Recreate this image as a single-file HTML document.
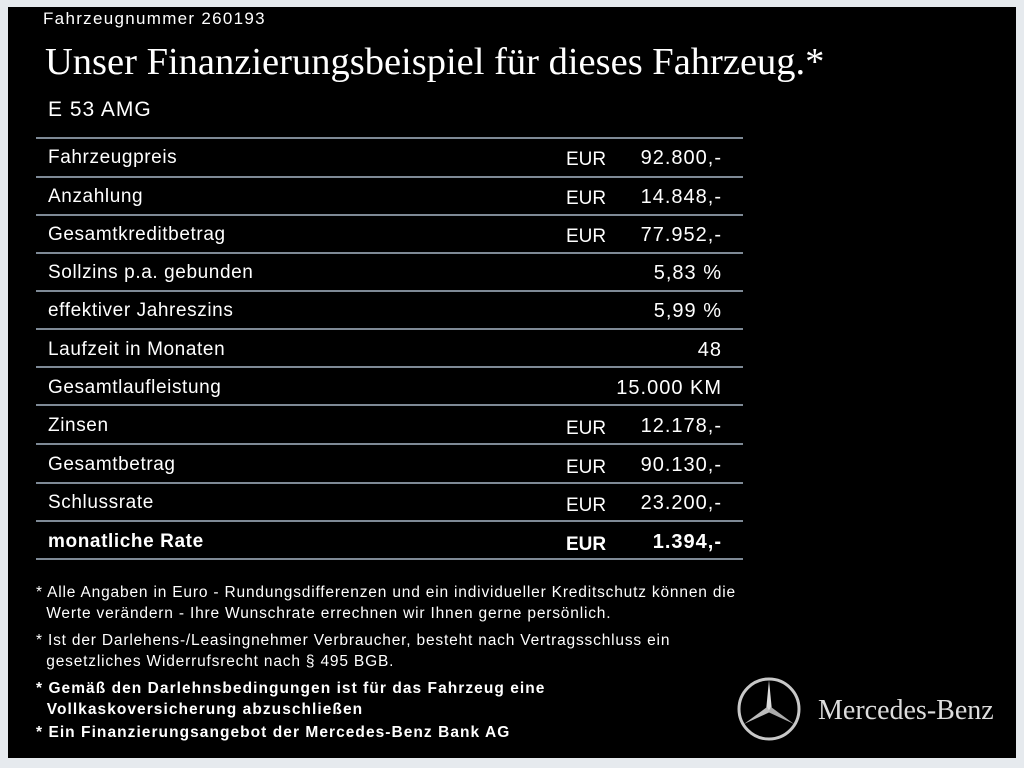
<!DOCTYPE html>
<html><head><meta charset="utf-8"><style>
body{margin:0;width:1024px;height:768px;background:#e6eaee;position:relative;overflow:hidden;font-family:"Liberation Sans",sans-serif;color:#fff}
#b{position:absolute;left:8px;top:7px;width:1008px;height:751px;background:#000}
.a{position:absolute;white-space:nowrap}
.l{position:absolute;left:36px;width:707px;height:2px;background:#7e8a96}
.r{position:absolute;left:48px;font-size:19px;letter-spacing:0.6px}
.e{position:absolute;left:566px;font-size:19px}
.v{position:absolute;right:302px;font-size:20px;text-align:right;letter-spacing:1px}
.f{position:absolute;left:36px;font-size:15.5px;line-height:21px;letter-spacing:0.82px;white-space:nowrap}
.fb{font-weight:bold;letter-spacing:1.05px}
</style></head><body><div id="b"></div>
<div class="a" style="left:43px;top:9px;font-size:17px;letter-spacing:1.3px">Fahrzeugnummer 260193</div>
<div class="a" style="left:45px;top:40px;font-size:38.5px;font-family:'Liberation Serif',serif">Unser Finanzierungsbeispiel für dieses Fahrzeug.*</div>
<div class="a" style="left:48px;top:98px;font-size:21px;letter-spacing:1px">E 53 AMG</div>
<div class="l" style="top:137px"></div><div class="l" style="top:176px"></div><div class="l" style="top:214px"></div><div class="l" style="top:252px"></div><div class="l" style="top:290px"></div><div class="l" style="top:328px"></div><div class="l" style="top:366px"></div><div class="l" style="top:404px"></div><div class="l" style="top:443px"></div><div class="l" style="top:482px"></div><div class="l" style="top:520px"></div><div class="l" style="top:558px"></div>
<div class="r" style="top:147px">Fahrzeugpreis</div><div class="e" style="top:149px">EUR</div><div class="v" style="top:147px">92.800,-</div>
<div class="r" style="top:186px">Anzahlung</div><div class="e" style="top:188px">EUR</div><div class="v" style="top:186px">14.848,-</div>
<div class="r" style="top:224px">Gesamtkreditbetrag</div><div class="e" style="top:226px">EUR</div><div class="v" style="top:224px">77.952,-</div>
<div class="r" style="top:262px">Sollzins p.a. gebunden</div><div class="v" style="top:262px">5,83 %</div>
<div class="r" style="top:300px">effektiver Jahreszins</div><div class="v" style="top:300px">5,99 %</div>
<div class="r" style="top:339px">Laufzeit in Monaten</div><div class="v" style="top:339px">48</div>
<div class="r" style="top:377px">Gesamtlaufleistung</div><div class="v" style="top:377px">15.000 KM</div>
<div class="r" style="top:415px">Zinsen</div><div class="e" style="top:418px">EUR</div><div class="v" style="top:415px">12.178,-</div>
<div class="r" style="top:454px">Gesamtbetrag</div><div class="e" style="top:457px">EUR</div><div class="v" style="top:454px">90.130,-</div>
<div class="r" style="top:492px">Schlussrate</div><div class="e" style="top:495px">EUR</div><div class="v" style="top:492px">23.200,-</div>
<div class="r" style="top:531px;font-weight:bold">monatliche Rate</div><div class="e" style="top:534px;font-weight:bold">EUR</div><div class="v" style="top:531px;font-weight:bold">1.394,-</div>
<div class="f" style="top:582px">* Alle Angaben in Euro - Rundungsdifferenzen und ein individueller Kreditschutz können die<br>&nbsp;&nbsp;Werte verändern - Ihre Wunschrate errechnen wir Ihnen gerne persönlich.</div>
<div class="f" style="top:630px">* Ist der Darlehens-/Leasingnehmer Verbraucher, besteht nach Vertragsschluss ein<br>&nbsp;&nbsp;gesetzliches Widerrufsrecht nach § 495 BGB.</div>
<div class="f fb" style="top:678px">* Gemäß den Darlehnsbedingungen ist für das Fahrzeug eine<br>&nbsp;&nbsp;Vollkaskoversicherung abzuschließen</div>
<div class="f fb" style="top:722px">* Ein Finanzierungsangebot der Mercedes-Benz Bank AG</div>
<svg style="position:absolute;left:735px;top:675px" width="68" height="68" viewBox="-34 -34 68 68">
<circle r="30" fill="none" stroke="#c8c8c8" stroke-width="3"/>
<polygon points="0,-29 3,2 -3,2" fill="#ddd"/>
<polygon points="25,15 -1,3 2,-2" fill="#aaa"/>
<polygon points="-25,15 1,3 -2,-2" fill="#bbb"/>
</svg>
<div class="a" style="left:818px;top:695px;font-size:28px;font-family:'Liberation Serif',serif;color:#ddd">Mercedes-Benz</div>
</body></html>
